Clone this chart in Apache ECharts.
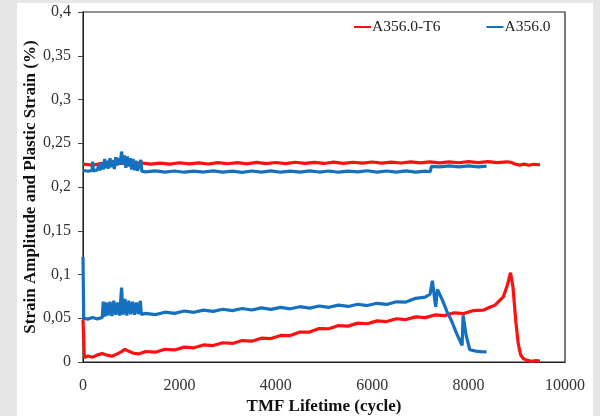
<!DOCTYPE html>
<html><head><meta charset="utf-8">
<script src="https://cdn.jsdelivr.net/npm/echarts@6/dist/echarts.min.js"></script>
<style>html,body{margin:0;padding:0;background:#e6e6e6;}#c{width:600px;height:416px;}</style>
</head><body><div id="c"></div>
<script>
// Axis ticks
const xTicks = [0, 2000, 4000, 6000, 8000, 10000];
const yTicks = [0, 0.05, 0.1, 0.15, 0.2, 0.25, 0.3, 0.35, 0.4];
const seriesNames = ['A356.0-T6', 'A356.0'];

// A356.0-T6 strain amplitude (upper curve)
const t6AmpX = [0,200,400,600,800,1000,1200,1400,1600,1800,2000,2200,2400,2600,2800,3000,3200,3400,3600,3800,4000,4200,4400,4600,4800,5000,5200,5400,5600,5800,6000,6200,6400,6600,6800,7000,7200,7400,7600,7800,8000,8200,8400,8600,8800,8900,8960,9060,9150,9250,9350,9480];
const t6AmpY = [0.2262,0.2250,0.2270,0.2258,0.2272,0.2259,0.2275,0.2262,0.2273,0.2261,0.2277,0.2264,0.2276,0.2263,0.2278,0.2266,0.2279,0.2265,0.2281,0.2268,0.2280,0.2267,0.2283,0.2270,0.2282,0.2269,0.2284,0.2271,0.2283,0.2272,0.2286,0.2273,0.2285,0.2274,0.2287,0.2275,0.2288,0.2276,0.2287,0.2277,0.2289,0.2278,0.2290,0.2279,0.2288,0.2278,0.2263,0.2250,0.2261,0.2249,0.2260,0.2252];
// A356.0-T6 plastic strain (lower curve)
const t6PlX = [0,30,100,200,300,400,500,600,700,800,870,950,1050,1150,1300,1500,1700,1900,2100,2300,2500,2700,2900,3100,3300,3500,3700,3900,4100,4300,4500,4700,4900,5100,5300,5500,5700,5900,6100,6300,6500,6700,6900,7100,7300,7500,7700,7900,8100,8300,8450,8550,8620,8720,8800,8870,8920,8980,9030,9080,9134,9200,9300,9400,9480];
const t6PlY = [0.0480,0.0050,0.0068,0.0055,0.0082,0.0096,0.0078,0.0066,0.0090,0.0118,0.0145,0.0122,0.0100,0.0092,0.0120,0.0112,0.0145,0.0138,0.0170,0.0162,0.0195,0.0188,0.0220,0.0212,0.0245,0.0238,0.0272,0.0268,0.0304,0.0302,0.0342,0.0342,0.0382,0.0380,0.0416,0.0410,0.0444,0.0437,0.0470,0.0462,0.0494,0.0485,0.0516,0.0507,0.0538,0.0530,0.0562,0.0554,0.0588,0.0592,0.0628,0.0650,0.0690,0.0745,0.0870,0.1020,0.0860,0.0460,0.0210,0.0080,0.0040,0.0022,0.0008,0.0016,0.0010];

// A356.0 strain amplitude (upper curve)
const asAmpX = [0,100,190,200,215,300,330,345,400,420,450,470,500,530,560,590,620,650,680,710,740,770,800,830,860,890,920,950,980,1010,1040,1070,1100,1130,1160,1200,1220,1300,1500,1700,1900,2100,2300,2500,2700,2900,3100,3300,3500,3700,3900,4100,4300,4500,4700,4900,5100,5300,5500,5700,5900,6100,6300,6500,6700,6900,7100,7200,7230,7400,7600,7800,8000,8200,8372];
const asAmpY = [0.2192,0.2180,0.2190,0.2290,0.2185,0.2195,0.2260,0.2190,0.2280,0.2200,0.2320,0.2215,0.2300,0.2210,0.2330,0.2225,0.2310,0.2205,0.2340,0.2245,0.2330,0.2255,0.2405,0.2265,0.2360,0.2220,0.2350,0.2235,0.2330,0.2200,0.2320,0.2190,0.2300,0.2185,0.2200,0.2310,0.2182,0.2172,0.2184,0.2170,0.2183,0.2169,0.2182,0.2171,0.2185,0.2170,0.2181,0.2168,0.2183,0.2171,0.2184,0.2169,0.2182,0.2170,0.2185,0.2171,0.2183,0.2169,0.2182,0.2172,0.2186,0.2170,0.2183,0.2171,0.2184,0.2170,0.2182,0.2174,0.2236,0.2229,0.2241,0.2230,0.2242,0.2231,0.2238];
// A356.0 plastic strain (lower curve)
const asPlX = [0,15,100,200,300,400,420,450,480,520,560,600,640,680,720,760,800,830,870,910,950,990,1030,1070,1110,1150,1190,1210,1300,1500,1700,1900,2100,2300,2500,2700,2900,3100,3300,3500,3700,3900,4100,4300,4500,4700,4900,5100,5300,5500,5700,5900,6100,6300,6500,6700,6900,7100,7200,7249,7300,7318,7353,7450,7550,7650,7750,7865,7886,7950,8025,8150,8250,8372];
const asPlY = [0.1200,0.0500,0.0490,0.0508,0.0492,0.0510,0.0690,0.0520,0.0680,0.0530,0.0690,0.0525,0.0700,0.0540,0.0680,0.0530,0.0850,0.0540,0.0720,0.0530,0.0700,0.0545,0.0690,0.0540,0.0680,0.0550,0.0700,0.0545,0.0555,0.0542,0.0569,0.0556,0.0583,0.0568,0.0593,0.0578,0.0603,0.0587,0.0611,0.0594,0.0618,0.0601,0.0625,0.0608,0.0632,0.0616,0.0640,0.0625,0.0650,0.0635,0.0660,0.0645,0.0671,0.0658,0.0688,0.0685,0.0728,0.0742,0.0775,0.0928,0.0700,0.0630,0.0830,0.0715,0.0578,0.0466,0.0328,0.0190,0.0535,0.0300,0.0140,0.0125,0.0118,0.0115];

function pairs(xs, ys) { return xs.map((x, i) => [x, ys[i]]); }

const RED = '#ff1010', BLUE = '#1570c0';
const FONT = 'Liberation Serif';
const LW = 3.2;

const chart = echarts.init(document.getElementById('c'), null, {renderer: 'canvas'});
chart.setOption({
  animation: false,
  backgroundColor: 'transparent',
  graphic: [{type: 'rect', shape: {x: 17, y: 3, width: 576, height: 413}, style: {fill: '#ffffff'}, z: -10}],
  grid: {left: 83, right: 35, top: 12, bottom: 54, outerBoundsMode: 'none', containLabel: false,
    show: true, backgroundColor: '#fff', borderColor: '#222', borderWidth: 1.2},
  legend: {
    data: seriesNames, left: 349, top: 14, icon: 'rect', itemWidth: 17, itemHeight: 2, itemGap: 46,
    textStyle: {fontFamily: FONT, fontSize: 15.5, color: '#222', padding: [0, 0, 0, -4]}
  },
  xAxis: {
    type: 'value', min: xTicks[0], max: xTicks[xTicks.length - 1], interval: 2000,
    name: 'TMF Lifetime (cycle)', nameLocation: 'middle', nameGap: 36, nameMoveOverlap: false,
    nameTextStyle: {fontFamily: FONT, fontSize: 17, fontWeight: 'bold', color: '#111'},
    axisLine: {show: true, lineStyle: {color: '#222'}}, axisTick: {show: false}, splitLine: {show: false},
    axisLabel: {fontFamily: FONT, fontSize: 16, color: '#333', margin: 16, formatter: v => String(v)}
  },
  yAxis: {
    type: 'value', min: yTicks[0], max: yTicks[yTicks.length - 1], interval: 0.05,
    name: 'Strain Amplitude and Plastic Strain (%)', nameLocation: 'middle', nameGap: 44, nameMoveOverlap: false,
    nameTextStyle: {fontFamily: FONT, fontSize: 17, fontWeight: 'bold', color: '#111'},
    axisLine: {show: true, lineStyle: {color: '#222'}},
    axisTick: {show: true, length: 5, lineStyle: {color: '#444'}}, splitLine: {show: false},
    axisLabel: {fontFamily: FONT, fontSize: 16, color: '#333', margin: 12,
      formatter: v => String(Math.round(v * 100) / 100).replace('.', ',')}
  },
  series: [
    {name: seriesNames[0], type: 'line', data: pairs(t6AmpX, t6AmpY), showSymbol: false, color: RED, lineStyle: {width: LW, color: RED}},
    {name: seriesNames[0], type: 'line', data: pairs(t6PlX, t6PlY), showSymbol: false, color: RED, lineStyle: {width: LW, color: RED}},
    {name: seriesNames[1], type: 'line', data: pairs(asAmpX, asAmpY), showSymbol: false, color: BLUE, lineStyle: {width: LW, color: BLUE}},
    {name: seriesNames[1], type: 'line', data: pairs(asPlX, asPlY), showSymbol: false, color: BLUE, lineStyle: {width: LW, color: BLUE}}
  ]
});
</script></body></html>
